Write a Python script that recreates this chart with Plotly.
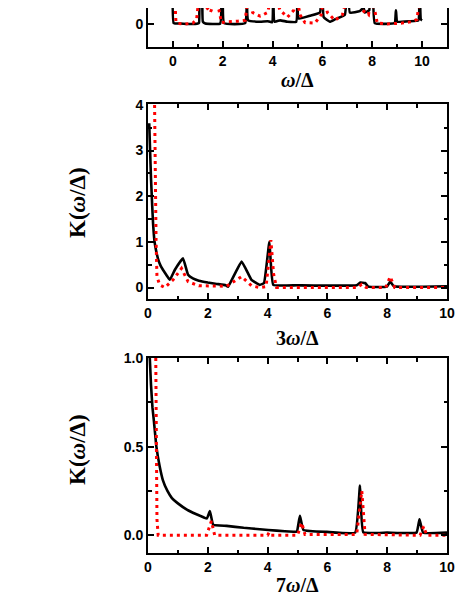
import plotly.graph_objects as go

# ---- panel (a): omega/Delta, only the bottom strip is visible ----
a_black_x = [0.0, 0.03, 0.3, 0.6, 1.0, 1.05, 1.08, 1.15, 1.2, 1.3, 1.9, 1.95, 2.0, 2.05,
             2.9, 2.97, 3.02, 3.5, 3.8, 3.98, 4.02, 4.08, 4.3, 4.6, 4.95, 4.98, 5.05,
             5.5, 5.9, 5.98, 6.05, 6.3, 6.5, 6.9, 7.03, 7.1, 7.5, 7.65, 7.7, 7.88, 7.92,
             8.0, 8.1, 8.9, 8.95, 9.0, 9.5, 9.85, 9.88, 9.95, 10.0]
a_black_y = [1.5, 0.02, 0.01, 0.0, 0.01, 0.03, 1.5, 1.5, 0.05, 0.01, 0.01, 1.5, 1.5, 0.02,
             0.02, 1.5, 0.08, 0.05, 0.06, 0.04, 1.5, 0.05, 0.08, 0.05, 0.05, 1.5, 0.12,
             0.18, 0.25, 1.5, 0.15, 0.05, 0.1, 0.2, 1.5, 0.25, 0.28, 0.35, 0.25, 0.3, 1.5,
             1.5, 0.02, 0.02, 0.3, 0.05, 0.06, 0.08, 1.5, 0.1, 0.08]
a_red_x = [0.0, 0.08, 0.12, 0.2, 0.5, 0.8, 0.95, 1.05, 1.3, 1.5, 1.7, 1.85, 1.95, 2.2,
           2.6, 2.9, 3.02, 3.2, 3.5, 3.8, 3.95, 4.1, 4.3, 4.6, 4.85, 4.97, 5.1, 5.3,
           5.7, 5.95, 6.05, 6.2, 6.5, 6.8, 7.0, 7.3, 7.6, 7.85, 7.95, 8.1, 8.2, 8.6,
           9.2, 9.6, 9.8, 9.9, 10.0]
a_red_y = [1.5, 0.6, 0.05, 0.01, 0.0, 0.02, 0.1, 0.6, 0.4, 0.25, 0.5, 0.3, 0.03, 0.05,
           0.06, 0.08, 0.6, 0.25, 0.17, 0.25, 0.6, 0.6, 0.3, 0.15, 0.3, 0.6, 0.2, 0.03,
           0.02, 0.2, 0.6, 0.25, 0.08, 0.2, 0.6, 0.55, 0.3, 0.2, 0.6, 0.3, 0.02, 0.0,
           0.02, 0.05, 0.1, 0.6, 0.5]

# ---- panel (b): 3 omega/Delta ----
b_black_x = [0.04, 0.07, 0.1, 0.14, 0.17, 0.22, 0.28, 0.34, 0.42, 0.5, 0.62, 0.73, 0.9,
             1.17, 1.34, 1.5, 1.7, 2.0, 2.3, 2.6, 2.68, 3.13, 3.46, 3.74, 3.88, 4.06,
             4.19, 5.0, 6.98, 7.1, 7.26, 7.37, 7.99, 8.1, 8.22, 10.0]
b_black_y = [3.6, 3.0, 2.4, 1.8, 1.4, 1.0, 0.78, 0.62, 0.48, 0.39, 0.27, 0.17, 0.39,
             0.64, 0.28, 0.2, 0.15, 0.11, 0.08, 0.05, 0.02, 0.57, 0.17, 0.06, 0.1, 1.0,
             0.06, 0.05, 0.05, 0.11, 0.1, 0.02, 0.02, 0.13, 0.03, 0.03]
b_red_x = [0.22, 0.23, 0.25, 0.27, 0.3, 0.39, 0.56, 0.84, 1.12, 1.34, 1.7, 2.63, 3.13,
           3.46, 3.74, 3.95, 4.11, 4.2, 4.3, 7.0, 7.15, 7.3, 7.95, 8.1, 8.25, 10.0]
b_red_y = [4.0, 3.23, 2.14, 1.04, 0.24, 0.06, 0.0, 0.17, 0.42, 0.13, 0.04, 0.03, 0.24,
           0.04, 0.0, 0.02, 1.04, 0.3, 0.0, 0.0, 0.07, 0.0, 0.0, 0.24, 0.0, 0.0]

# ---- panel (c): 7 omega/Delta ----
c_black_x = [0.06, 0.1, 0.15, 0.2, 0.28, 0.39, 0.5, 0.65, 0.8, 1.0, 1.3, 1.6, 1.97,
             2.07, 2.18, 2.63, 3.2, 3.74, 4.3, 4.86, 4.98, 5.08, 5.2, 5.98, 6.93, 7.09,
             7.2, 8.0, 8.98, 9.08, 9.2, 10.0]
c_black_y = [1.0, 0.85, 0.72, 0.64, 0.5, 0.39, 0.31, 0.25, 0.21, 0.18, 0.145, 0.12, 0.095,
             0.137, 0.06, 0.053, 0.042, 0.034, 0.026, 0.02, 0.02, 0.11, 0.03, 0.019,
             0.015, 0.28, 0.017, 0.015, 0.015, 0.09, 0.015, 0.015]
c_red_x = [0.26, 0.28, 0.3, 0.34, 1.96, 2.12, 2.23, 4.0, 4.05, 4.1, 5.0, 5.14, 5.25,
           6.98, 7.15, 7.26, 9.1, 9.22, 9.32, 10.0]
c_red_y = [1.0, 0.5, 0.09, 0.0, 0.0, 0.08, 0.0, 0.0, 0.015, 0.0, 0.0, 0.07, 0.005,
           0.005, 0.25, 0.005, 0.0, 0.05, 0.0, 0.0]

x_ticks = [0, 2, 4, 6, 8, 10]

# page body has an 8px margin, so the figure is laid out 8px smaller
W, H = 455, 591


def ydom(top_px, bot_px):
    return [1 - bot_px / H, 1 - top_px / H]


PANELS = [
    dict(bx=a_black_x, by=a_black_y, rx=a_red_x, ry=a_red_y,
         xr=[-1, 11], yr=[-0.5, 0.348], ydtick=1, yminor=None,
         ydom=ydom(0, 39), mirrorx=False),
    dict(bx=b_black_x, by=b_black_y, rx=b_red_x, ry=b_red_y,
         xr=[0, 10], yr=[-0.25, 4.02], ydtick=1, yminor=0.5,
         ydom=ydom(96, 291), mirrorx="allticks"),
    dict(bx=c_black_x, by=c_black_y, rx=c_red_x, ry=c_red_y,
         xr=[0, 10], yr=[-0.1, 1.0], ydtick=0.5, yminor=0.25,
         ydom=ydom(350, 545), mirrorx="allticks"),
]

TICKFONT = dict(family="Liberation Sans, Arial", size=14, color="black", weight="bold")
SERIF = "Liberation Serif, Times New Roman"
L, R = 140, 16
PW = W - L - R

fig = go.Figure()
layout = {}
for i, p in enumerate(PANELS):
    n = "" if i == 0 else str(i + 1)
    xa, ya = "x" + n, "y" + n
    fig.add_trace(go.Scatter(x=p["bx"], y=p["by"], mode="lines", xaxis=xa, yaxis=ya,
                             line=dict(color="black", width=2.6, shape="spline",
                                       smoothing=0.3),
                             showlegend=False))
    fig.add_trace(go.Scatter(x=p["rx"], y=p["ry"], mode="lines", xaxis=xa, yaxis=ya,
                             line=dict(color="#ff0000", width=3, dash="3px,4px"),
                             showlegend=False))
    common = dict(showline=True, linecolor="black", linewidth=2, ticks="inside",
                  ticklen=6, tickwidth=2, tickcolor="black", showgrid=False,
                  zeroline=False, tickfont=TICKFONT, automargin=False)
    layout["xaxis" + n] = dict(common, domain=[0, 1], anchor=ya, range=p["xr"],
                               tickvals=x_ticks, mirror=p["mirrorx"],
                               minor=dict(ticks="inside", ticklen=3.5, tickwidth=2,
                                          tickcolor="black", dtick=1, tick0=0))
    yax = dict(common, domain=p["ydom"], anchor=xa, range=p["yr"], dtick=p["ydtick"],
               tick0=0, mirror="allticks")
    if i == 2:
        yax["tickformat"] = ".1f"
    if p["yminor"]:
        yax["minor"] = dict(ticks="inside", ticklen=3.5, tickwidth=2, tickcolor="black",
                            dtick=p["yminor"], tick0=0)
    layout["yaxis" + n] = yax

ann = []
title_font = dict(family=SERIF, size=20, color="black", weight="bold")
for txt, ypx in [("<i>ω</i>/Δ", 72), ("3<i>ω</i>/Δ", 330), ("7<i>ω</i>/Δ", 577)]:
    ann.append(dict(text=txt, x=0.5, y=1 - ypx / H, xref="paper", yref="paper",
                    xanchor="center", yanchor="middle", showarrow=False,
                    font=title_font))
for ypx in [195, 442]:
    ann.append(dict(text="K(<i>ω</i>/Δ)", x=(69 - L) / PW, y=1 - ypx / H,
                    xref="paper", yref="paper", xanchor="center", yanchor="middle",
                    showarrow=False, textangle=-90,
                    font=dict(family=SERIF, size=23, color="black", weight="bold")))
for txt, ypx in [("(b)", 120), ("(c)", 380)]:
    ann.append(dict(text=txt, x=(447 - L) / PW, y=1 - ypx / H, xref="paper",
                    yref="paper", xanchor="left", yanchor="middle", showarrow=False,
                    font=dict(family=SERIF, size=24, color="black")))

fig.update_layout(layout)
fig.update_layout(width=W, height=H, margin=dict(l=L, r=R, t=0, b=0, pad=0),
                  template="none", plot_bgcolor="white", paper_bgcolor="white",
                  annotations=ann)
fig.write_html("out.html")
